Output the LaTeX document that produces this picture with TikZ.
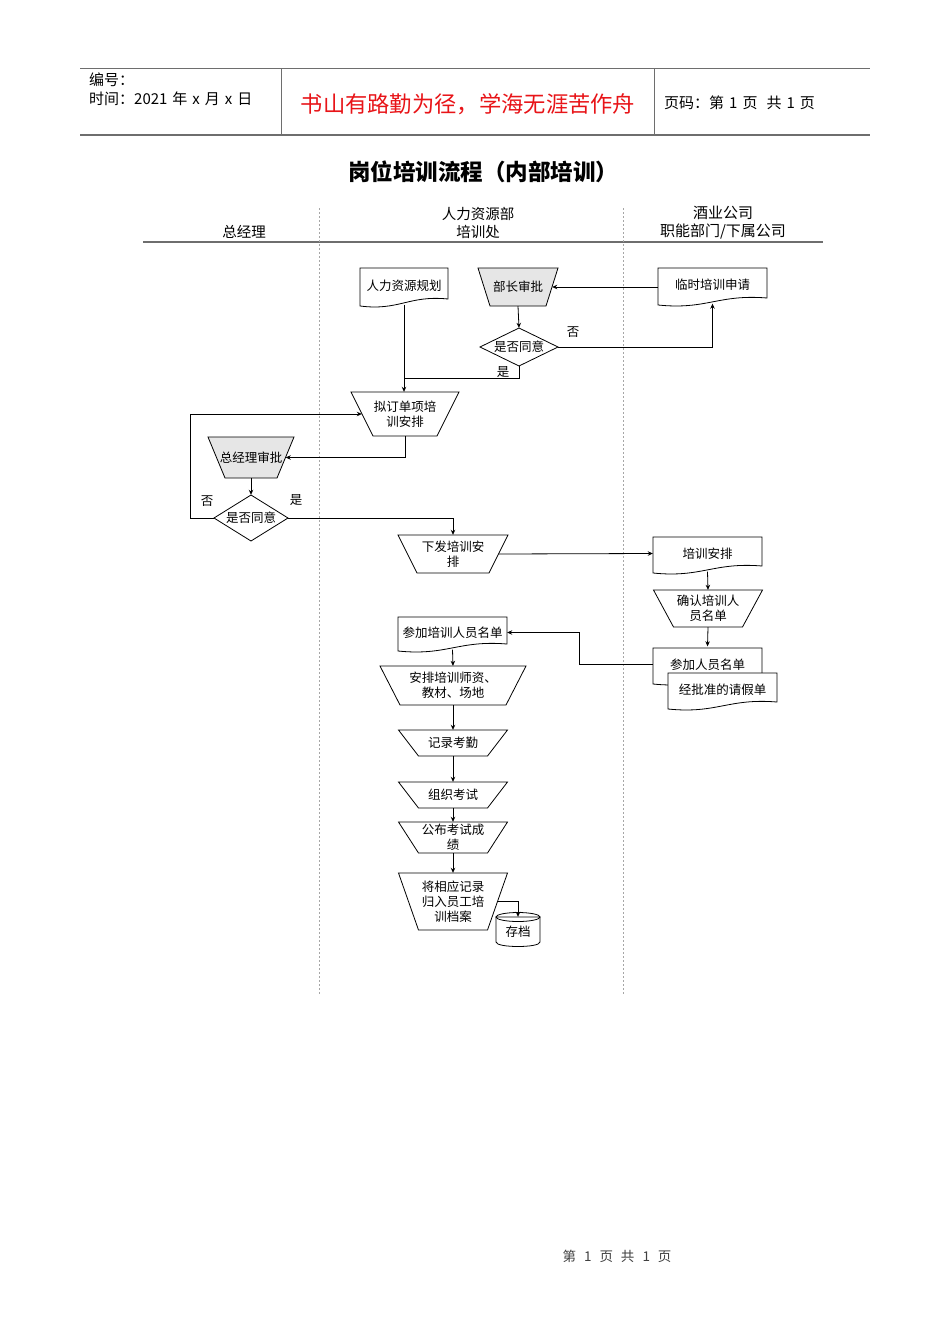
\documentclass[tikz,border=0pt]{standalone}
\usepackage{fontspec}
\setmainfont{Noto Sans CJK SC}
\usetikzlibrary{arrows.meta,calc}
\definecolor{boxgray}{RGB}{230,230,230}
\definecolor{mottored}{RGB}{232,20,24}
\definecolor{rulegray}{RGB}{110,110,110}
\tikzset{
  shapeline/.style={draw=black, line width=0.8pt},
  conn/.style={draw=black, line width=0.8pt, -{Stealth[length=5pt,width=4.5pt]}},
  plainline/.style={draw=black, line width=0.8pt},
  txt/.style={font=\fontsize{12.5}{15}\selectfont, align=center, inner sep=0pt},
  lbl/.style={font=\fontsize{12.5}{15}\selectfont, inner sep=0pt},
  lane/.style={draw=gray!70, line width=0.6pt, dash pattern=on 2pt off 2pt},
}
% trapezoid (wide top): name, cx, cy, top width, bottom width, height, fill, text
\newcommand\trapnode[8]{%
  \filldraw[shapeline, fill=#7] ({#2-#4/2},{#3-#6/2}) -- ({#2+#4/2},{#3-#6/2}) -- ({#2+#5/2},{#3+#6/2}) -- ({#2-#5/2},{#3+#6/2}) -- cycle;
  \node[txt, minimum width={(#4+#5)/2*1pt}, minimum height={#6*1pt}] (#1) at (#2,#3) {#8};}
% document: name, x1, y1, x2, y2, text
\newcommand\docnode[6]{%
  \filldraw[shapeline, fill=white] (#2,#3) -- (#4,#3) -- (#4,{#5-7}) .. controls ({#2+0.55*(#4-#2)},{#5-11}) and ({#2+0.45*(#4-#2)},{#5+5}) .. (#2,#5) -- cycle;
  \node[txt, minimum width={(#4-#2)*1pt}, minimum height={(#5-#3)*1pt}] (#1) at ({(#2+#4)/2},{(#3+#5)/2-1.5}) {#6};}
% decision: name, cx, cy, width, height, text
\newcommand\decnode[6]{%
  \filldraw[shapeline, fill=white] ({#2-#4/2},#3) -- (#2,{#3-#5/2}) -- ({#2+#4/2},#3) -- (#2,{#3+#5/2}) -- cycle;
  \node[txt, minimum width={#4*1pt}, minimum height={#5*1pt}] (#1) at (#2,#3) {#6};}
\newcommand\gap{\hspace{5pt}}
\begin{document}
\begin{tikzpicture}[x=1pt,y=-1pt]
\useasboundingbox (0,0) rectangle (950,1344);
\fill[white] (0,0) rectangle (950,1344);
% ---------- header ----------
\draw[rulegray, line width=1pt] (80,68) -- (870,68);
\draw[rulegray, line width=1.6pt] (80,135) -- (870,135);
\draw[rulegray, line width=1pt] (281,68) -- (281,135);
\draw[rulegray, line width=1pt] (654,68) -- (654,135);
\node[anchor=west, inner sep=0pt, font=\fontsize{15}{17}\selectfont] (hnum) at (89,80) {编号：};
\node[anchor=west, inner sep=0pt, font=\fontsize{15}{17}\selectfont] (hdate) at (89,99) {时间：2021\gap 年\gap x\gap 月\gap x\gap 日};
\node[inner sep=0pt, text=mottored, font=\fontsize{22.3}{25}\selectfont] (motto) at (468,104) {书山有路勤为径，学海无涯苦作舟};
\node[anchor=west, inner sep=0pt, font=\fontsize{15}{17}\selectfont] (hpage) at (664,103) {页码：第\gap 1\gap 页\hspace{9pt}共\gap 1\gap 页};
% ---------- title ----------
\node[inner sep=0pt, font=\fontsize{22.5}{26}\selectfont\bfseries] (title) at (483,172) {岗位培训流程（内部培训）};
% ---------- lanes ----------
\node[inner sep=0pt, font=\fontsize{14.5}{17}\selectfont] (colA) at (244,232) {总经理};
\node[inner sep=0pt, font=\fontsize{14.5}{18}\selectfont, align=center] (colB) at (478,223) {人力资源部\\培训处};
\node[inner sep=0pt, font=\fontsize{15}{18}\selectfont, align=center] (colC) at (723,223) {酒业公司\\职能部门/下属公司};
\draw[rulegray, line width=1.5pt] (143,242) -- (823,242);
\draw[lane] (319,208) -- (319,995);
\draw[lane] (623,208) -- (623,995);
% ---------- nodes ----------
\docnode{hr}{360}{268}{448}{306}{人力资源规划}
\trapnode{minister}{518}{287}{80}{56}{38}{boxgray}{部长审批}
\docnode{temp}{658}{268}{767}{305}{临时培训申请}
\decnode{dA}{519}{347}{78}{38}{是否同意}
\trapnode{draft}{405}{414}{108}{64}{44}{white}{拟订单项培\\训安排}
\trapnode{gm}{251}{457.5}{86}{52}{41}{boxgray}{总经理审批}
\decnode{dB}{251}{518}{74}{46}{是否同意}
\trapnode{issue}{453}{554}{110}{72}{38}{white}{下发培训安\\排}
\docnode{arr}{653}{537}{762}{573}{培训安排}
\trapnode{confirm}{708}{608.5}{109}{69}{37}{white}{确认培训人\\员名单}
\docnode{part}{653}{648}{762}{684}{参加人员名单}
\docnode{leave}{668}{673}{777}{709}{经批准的请假单}
\docnode{plist}{398}{617}{507}{651}{参加培训人员名单}
\trapnode{teach}{453}{685.5}{146}{106}{39}{white}{安排培训师资、\\教材、场地}
\trapnode{rec}{453}{743}{109}{69}{26}{white}{记录考勤}
\trapnode{exam}{453}{795}{109}{69}{26}{white}{组织考试}
\trapnode{pub}{453}{837.5}{109}{69}{31}{white}{公布考试成\\绩}
\trapnode{file}{453}{901.5}{109}{69}{57}{white}{将相应记录\\归入员工培\\训档案}
% storage cylinder
\filldraw[shapeline, fill=white] (496,917) -- (496,942) .. controls (496,948) and (540,948) .. (540,942) -- (540,917) -- cycle;
\draw[shapeline] (518,917) ellipse [x radius=22, y radius=4.5];
\node[txt, minimum width=44pt, minimum height=30pt] (store) at (518,932) {存档};
% ---------- connectors ----------
\draw[conn] (temp.west |- minister.east) -- (minister.east);
\draw[conn] (minister.south) -- (dA.north);
\draw[conn] (dA.east) -| (temp.south);
\node[lbl] (noA) at (573,332) {否};
\coordinate (jA) at (hr.south |- 0,378);
\draw[plainline] (dA.south) |- (jA);
\node[lbl] (yesA) at (503,372) {是};
\draw[conn] (hr.south) -- (hr.south |- draft.north);
\draw[conn] (draft.south) |- (gm.east);
\draw[conn] (gm.south) -- (dB.north);
\draw[conn] (dB.west) -- ++(-23,0) |- (draft.west);
\draw[conn] (dB.east) -| (issue.north);
\node[lbl] (noB) at (207,501) {否};
\node[lbl] (yesB) at (296,500) {是};
\draw[conn] (issue.east) -- (arr.west);
\draw[conn] (arr.south) -- (confirm.north);
\draw[conn] (confirm.south) -- (part.north);
\draw[conn] (part.west) -- ++(-73,0) |- (plist.east);
\draw[conn] (plist.south) -- (teach.north);
\draw[conn] (teach.south) -- (rec.north);
\draw[conn] (rec.south) -- (exam.north);
\draw[conn] (exam.south) -- (pub.north);
\draw[conn] (pub.south) -- (file.north);
\draw[conn] (file.east) -| (store.north);
% ---------- footer ----------
\node[inner sep=0pt, text=black!75, font=\fontsize{13.5}{15}\selectfont] (footer) at (617,1256) {第\hspace{8pt}1\hspace{8pt}页\hspace{8pt}共\hspace{8pt}1\hspace{8pt}页};
\end{tikzpicture}
\end{document}
